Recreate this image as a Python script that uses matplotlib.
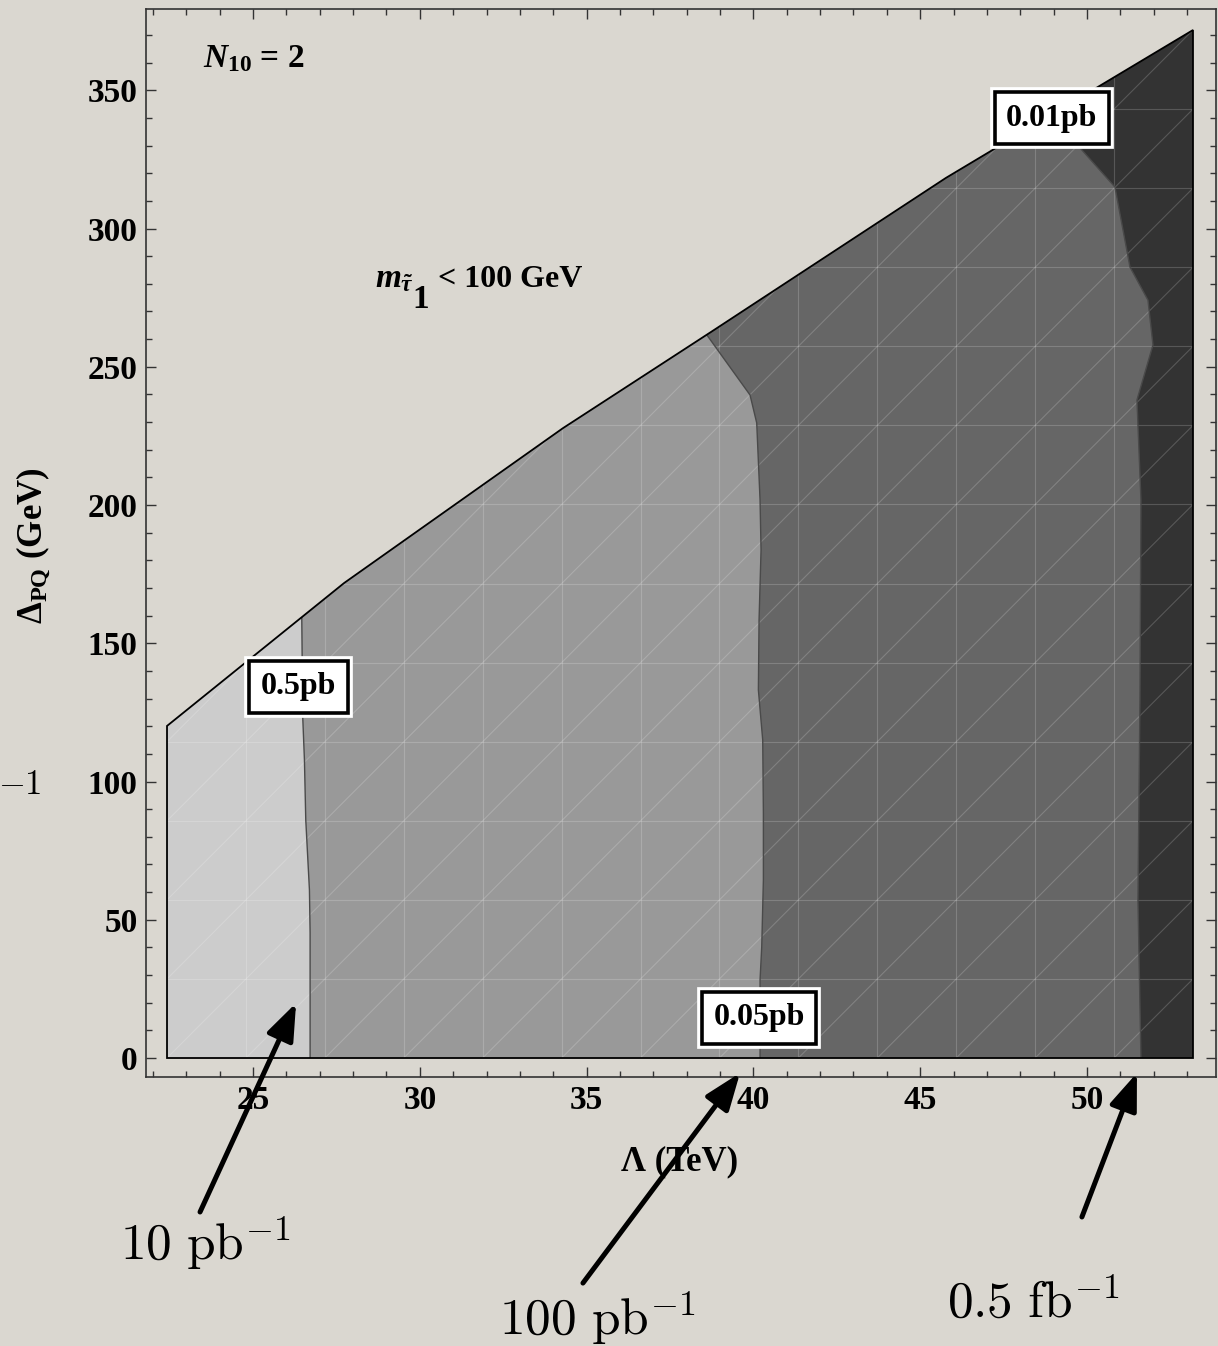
import numpy as np
import matplotlib
matplotlib.use('Agg')
import matplotlib.pyplot as plt
from matplotlib.patches import Polygon
from matplotlib.collections import LineCollection
from matplotlib.ticker import MultipleLocator
from matplotlib import patheffects as pe

plt.rcParams['font.family'] = ['Liberation Serif', 'DejaVu Serif']
plt.rcParams['font.weight'] = 'bold'
plt.rcParams['axes.labelweight'] = 'bold'
plt.rcParams['mathtext.fontset'] = 'custom'
plt.rcParams['mathtext.rm'] = 'Liberation Serif:bold'
plt.rcParams['mathtext.it'] = 'Liberation Serif:bold:italic'
plt.rcParams['mathtext.bf'] = 'Liberation Serif:bold'

# allowed region in the (Lambda, Delta_PQ) plane
lam_edge = [22.42, 22.42, 27.73, 34.29, 38.73, 45.77, 53.18, 53.18]
dpq_edge = [0.0, 120.1, 171.8, 227.8, 262.6, 318.3, 371.8, 0.0]

# cross-section contours (top -> bottom)
c05_lam = [26.46, 26.49, 26.54, 26.58, 26.69, 26.71, 26.71]
c05_dpq = [159.4, 123.0, 107.8, 86.1, 60.8, 45.2, 0.0]

c005_lam = [38.60, 39.90, 40.10, 40.20, 40.23, 40.17, 40.15, 40.28, 40.30, 40.30, 40.25, 40.20, 40.20]
c005_dpq = [261.6, 239.8, 229.7, 201.8, 183.7, 158.4, 133.1, 115.0, 88.6, 64.4, 40.1, 28.2, 0.0]

c001_lam = [48.92, 49.85, 50.84, 51.29, 51.83, 51.98, 51.50, 51.62, 51.59, 51.53, 51.62]
c001_dpq = [341.0, 328.4, 315.0, 286.1, 274.1, 257.9, 238.0, 201.8, 129.5, 57.1, 0.0]

contours = [(c001_lam, c001_dpq, '#666666'),
            (c005_lam, c005_dpq, '#999999'),
            (c05_lam, c05_dpq, '#cccccc')]

labels = ['0.01pb', '0.05pb', '0.5pb']
label_lam = [48.95, 40.17, 26.36]
label_dpq = [339.9, 14.5, 134.2]

lumi_text = [r'$10\ \mathrm{pb}^{-1}$', r'$100\ \mathrm{pb}^{-1}$', r'$0.5\ \mathrm{fb}^{-1}$']
arrow_tip = [(26.29, 19.9), (39.60, -5.4), (51.50, -5.4)]
arrow_tail = [(23.41, -55.7), (34.89, -81.4), (49.85, -57.5)]
lumi_pos = [(205, 1260), (597, 1335), (1033, 1318)]  # figure pixels from top-left

bg = '#dad7d0'
W, H = 1218, 1346
fig = plt.figure(figsize=(W / 100, H / 100), dpi=100, facecolor=bg)
ax = fig.add_axes([146 / W, 1 - 1077 / H, (1216 - 146) / W, (1077 - 9.3) / H])
ax.set_facecolor('none')
ax.set_xlim(21.79, 53.87)
ax.set_ylim(-6.87, 379.3)

region = Polygon(np.column_stack([lam_edge, dpq_edge]), closed=True,
                 fc='#333333', ec='none', zorder=1)
ax.add_patch(region)

for lam, dpq, col in contours:
    xs = [19.0, lam[0]] + list(lam) + [lam[-1], 19.0]
    ys = [420.0, 420.0] + list(dpq) + [-20.0, -20.0]
    p = ax.fill(xs, ys, color=col, lw=0, zorder=2)[0]
    p.set_clip_path(region)

for lam, dpq, col in contours:
    ln, = ax.plot(lam, dpq, color='#4a4a4a', lw=1.0, zorder=4)
    ln.set_clip_path(region)

# mesh of the plotting grid
gx = np.linspace(lam_edge[0], lam_edge[-1], 14)
gy = np.linspace(0, max(dpq_edge), 14)
segs = []
for x in gx:
    segs.append([(x, gy[0]), (x, gy[-1])])
for y in gy:
    segs.append([(gx[0], y), (gx[-1], y)])
for i in range(13):
    for j in range(13):
        segs.append([(gx[i], gy[j]), (gx[i + 1], gy[j + 1])])
mesh = LineCollection(segs, colors='white', linewidths=0.8, alpha=0.18, zorder=3)
ax.add_collection(mesh)
mesh.set_clip_path(region)

ax.add_patch(Polygon(np.column_stack([lam_edge, dpq_edge]), closed=True,
                     fill=False, ec='black', lw=1.3, zorder=5))

for txt, x, y in zip(labels, label_lam, label_dpq):
    t = ax.text(x, y, txt, ha='center', va='center', fontsize=23, zorder=8,
                bbox=dict(boxstyle='square,pad=0.36', fc='white', ec='black', lw=2.6))
    t.get_bbox_patch().set_path_effects([pe.withStroke(linewidth=7, foreground='white')])

ax.text(23.5, 358.4, r'$N_{10}$ = 2', fontsize=24, ha='left', va='baseline')
ax.text(28.66, 278.8, r'$m_{\tilde{\tau}}$', fontsize=24, ha='left', va='baseline')
ax.text(29.77, 271.2, '1', fontsize=24, ha='left', va='baseline')
ax.text(30.55, 278.8, '< 100 GeV', fontsize=23, ha='left', va='baseline')

for tip, tail in zip(arrow_tip, arrow_tail):
    ax.annotate('', xy=tip, xytext=tail, annotation_clip=False, zorder=9,
                arrowprops=dict(arrowstyle='-|>,head_length=0.45,head_width=0.17',
                                mutation_scale=50, lw=3.6, color='black',
                                shrinkA=0, shrinkB=0))

for txt, (px, py) in zip(lumi_text, lumi_pos):
    fig.text(px / W, 1 - py / H, txt, fontsize=37, ha='center', va='baseline',
             math_fontfamily='cm')
fig.text(20 / W, 1 - 785 / H, r'$-1$', fontsize=25, ha='center', va='center',
         math_fontfamily='cm')

ax.xaxis.set_major_locator(MultipleLocator(5))
ax.xaxis.set_minor_locator(MultipleLocator(1))
ax.yaxis.set_major_locator(MultipleLocator(50))
ax.yaxis.set_minor_locator(MultipleLocator(10))
ax.tick_params(which='both', direction='in', top=True, right=True, color='#333333', width=1.0)
ax.tick_params(which='major', length=7.5)
ax.tick_params(which='minor', length=4.3)
ax.tick_params(axis='x', labelsize=24, pad=6)
ax.tick_params(axis='y', labelsize=24, pad=6)
for s in ax.spines.values():
    s.set_color('#333333')
    s.set_linewidth(1.2)

ax.set_xlabel('Λ (TeV)', fontsize=25, fontweight='bold')
ax.xaxis.set_label_coords(0.499, -0.064)
ax.set_ylabel(r'$\Delta_{\mathrm{PQ}}$ (GeV)', fontsize=25, fontweight='bold')
ax.yaxis.set_label_coords(-0.088, 0.498)

fig.savefig('out.png', dpi=100, facecolor=bg)
